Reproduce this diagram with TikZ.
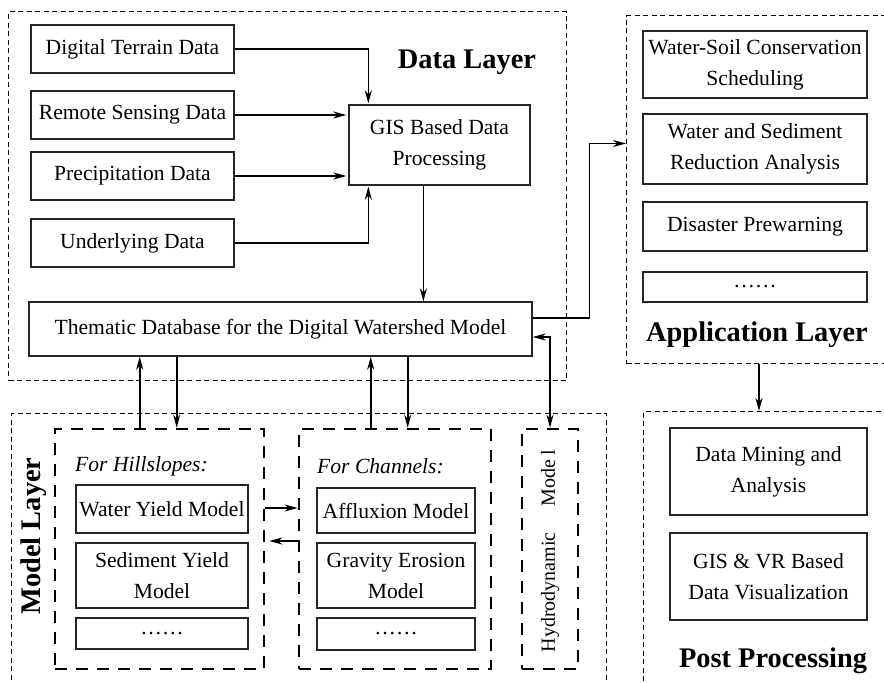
\documentclass[tikz,border=0pt]{standalone}
\usepackage{fontspec}
\setmainfont{Liberation Serif}
\usetikzlibrary{arrows.meta}
\newcommand\dwBody{\fontsize{21.6}{31}\selectfont}
\newcommand\dwSmall{\fontsize{20}{24}\selectfont}
\newcommand\dwLayer{\fontsize{28.4}{34}\selectfont\bfseries}
\begin{document}
\begin{tikzpicture}[x=1pt,y=-1pt,
  box/.style={draw=black!85, line width=1.3pt, inner sep=1pt, align=center, font=\dwBody},
  frame/.style={draw, line width=1pt, dash pattern=on 5pt off 3.5pt, inner sep=0pt},
  group/.style={draw, line width=2.6pt, dash pattern=on 12pt off 9pt, inner sep=0pt},
  layerlabel/.style={font=\dwLayer, inner sep=0pt},
  tip/.style={Stealth[length=13pt,width=7pt,inset=4pt]},
  arr/.style={line width=1.6pt, -{Stealth[length=13pt,width=7pt,inset=4pt]}},
  inarr/.style={arr, line width=1.9pt, shorten >=2pt},
  thinarr/.style={arr, line width=1.1pt},
  biarr/.style={line width=1.6pt, {Stealth[length=13pt,width=7pt,inset=4pt]}-{Stealth[length=13pt,width=7pt,inset=4pt]}}
]
\useasboundingbox (0,0) rectangle (884,683);
\clip (0,0) rectangle (884,683);

% ---------------- Data layer ----------------
\node[frame, minimum width=558, minimum height=369, anchor=north west] (datalayer) at (8,11) {};
\node[layerlabel] (datalabel) at (467,62) {Data Layer};
\node[box, minimum width=203, minimum height=48] (dt) at (132.5,49) {Digital Terrain Data};
\node[box, minimum width=203, minimum height=48] (rs) at (132.5,115) {Remote Sensing Data};
\node[box, minimum width=203, minimum height=48] (pd) at (132.5,176) {Precipitation Data};
\node[box, minimum width=203, minimum height=48] (ud) at (132.5,243) {Underlying Data};
\node[box, minimum width=181, minimum height=80] (gis) at (439.5,145) {GIS Based Data\\Processing};
\node[box, minimum width=503, minimum height=54] (them) at (280.5,329) {Thematic Database for the Digital Watershed Model};

\draw[arr, shorten >=1pt] (dt.east) -| ([xshift=20pt]gis.north west);
\draw[inarr] (rs.east) -- (rs.east -| gis.west);
\draw[inarr] (pd.east) -- (pd.east -| gis.west);
\draw[arr, shorten >=1pt] (ud.east) -| ([xshift=20pt]gis.south west);
\draw[arr] ([xshift=75pt]gis.south west) -- ([xshift=75pt]gis.south west |- them.north);

% ---------------- Application layer ----------------
\node[frame, minimum width=300, minimum height=348, anchor=north west] (app) at (626,15) {};
\node[box, minimum width=224, minimum height=67] (wsc) at (755,64.5) {Water-Soil Conservation\\Scheduling};
\node[box, minimum width=224, minimum height=70] (wsr) at (755,149) {Water and Sediment\\Reduction Analysis};
\node[box, minimum width=224, minimum height=49] (dpw) at (755,226.5) {Disaster Prewarning};
\node[box, minimum width=224, minimum height=30] (adots) at (755,287) {……};
\node[layerlabel] (applabel) at (757,335) {Application Layer};

\draw[thinarr] ([yshift=11pt]them.east) -- ++(57,0) |- ([yshift=46pt]app.west);

% ---------------- Post processing ----------------
\node[frame, minimum width=300, minimum height=300, anchor=north west] (post) at (643,411) {};
\node[box, minimum width=197, minimum height=87] (dma) at (768.5,471.5) {Data Mining and\\Analysis};
\node[box, minimum width=197, minimum height=87] (gvr) at (768.5,576.5) {GIS \& VR Based\\Data Visualization};
\node[layerlabel] (postlabel) at (773,661) {Post Processing};

\draw[arr] ([xshift=133pt]app.south west) -- ([xshift=133pt]app.south west |- post.north);

% ---------------- Model layer ----------------
\node[frame, minimum width=595, minimum height=300, anchor=north west] (model) at (11,413) {};
\node[layerlabel, rotate=90] (modellabel) at (34,536) {Model Layer};

\node[group, minimum width=209, minimum height=240] (hill) at (159.5,549) {};
\node[font=\dwBody\itshape, anchor=west, inner sep=0pt] (hilltitle) at (75,466) {For Hillslopes:};
\node[box, minimum width=172, minimum height=48] (wym) at (162,509) {Water Yield Model};
\node[box, minimum width=172, minimum height=65] (sym) at (162,575.5) {Sediment Yield\\Model};
\node[box, minimum width=172, minimum height=31] (hdots) at (162,633.5) {……};

\node[group, minimum width=192, minimum height=240] (chan) at (395,549) {};
\node[font=\dwBody\itshape, anchor=west, inner sep=0pt] (chantitle) at (317,466) {For Channels:};
\node[box, minimum width=158, minimum height=45] (afm) at (396,510.5) {Affluxion Model};
\node[box, minimum width=158, minimum height=65] (gem) at (396,575.5) {Gravity Erosion\\Model};
\node[box, minimum width=158, minimum height=32] (cdots) at (396,634) {……};

\node[group, minimum width=56, minimum height=240] (hyd) at (550,549) {};
\node[font=\dwSmall, rotate=90, inner sep=0pt] (hydtext) at (550,551) {Hydrodynamic\hspace{26pt}Mode\hspace{4pt}l};

% links between the thematic database and the model groups
\draw[arr] ([xshift=86pt]hill.north west) -- ([xshift=86pt]hill.north west |- them.south);
\draw[arr] ([xshift=123pt]hill.north west |- them.south) -- ([xshift=123pt]hill.north west);
\draw[arr] ([xshift=73pt]chan.north west) -- ([xshift=73pt]chan.north west |- them.south);
\draw[arr] ([xshift=110pt]chan.north west |- them.south) -- ([xshift=110pt]chan.north west);
\draw[biarr] ([yshift=-8pt]them.east) -| (hyd.north);

% exchange between hillslope and channel models
\draw[arr, line width=1.9pt] ([yshift=41pt]hill.east) -- ([yshift=41pt]chan.west);
\draw[arr, line width=1.9pt] ([yshift=8pt]chan.west) -- ([yshift=8pt,xshift=4pt]hill.east);
\end{tikzpicture}
\end{document}
